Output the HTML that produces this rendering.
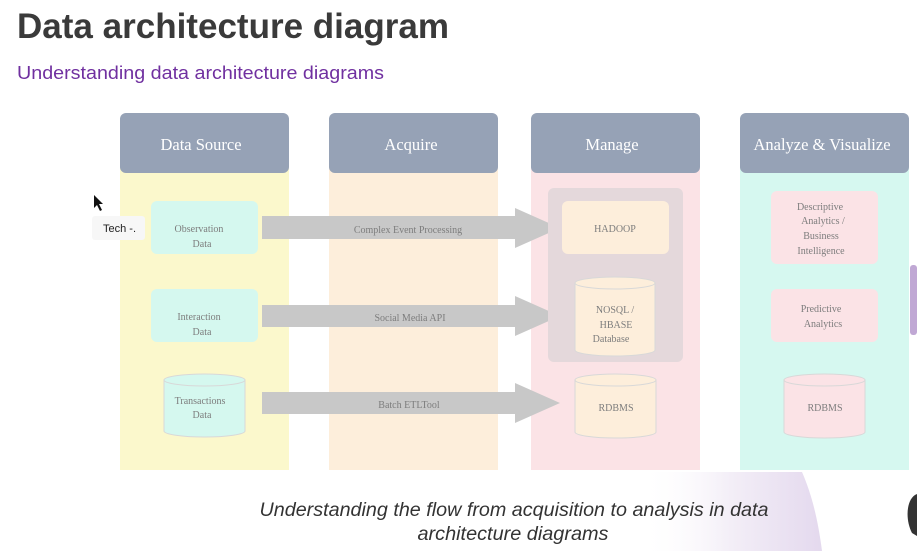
<!DOCTYPE html>
<html><head><meta charset="utf-8"><style>
html,body{margin:0;padding:0;background:#fff;width:917px;height:551px;overflow:hidden}
svg{display:block}
.s{font-family:"Liberation Serif",serif;fill:#7d7d7d;font-size:10px;text-anchor:middle}
.h{font-family:"Liberation Serif",serif;fill:#fff;font-size:16.5px;text-anchor:middle}
</style></head><body>
<svg width="917" height="551" viewBox="0 0 917 551">
<defs>
<linearGradient id="g" x1="0" y1="0" x2="1" y2="0">
<stop offset="0" stop-color="#fff" stop-opacity="0"/><stop offset="0.5" stop-color="#f3eef7"/><stop offset="1" stop-color="#e4d9ee"/>
</linearGradient>
</defs>
<path d="M640 472 L802 472 C812 495 818 520 822 551 L640 551 Z" fill="url(#g)"/>
<text x="17" y="38" font-family="Liberation Sans,sans-serif" font-weight="bold" font-size="35" fill="#3a3a3a" textLength="432" lengthAdjust="spacingAndGlyphs">Data architecture diagram</text>
<text x="17" y="79" font-family="Liberation Sans,sans-serif" font-size="18" fill="#7030a0" textLength="367" lengthAdjust="spacingAndGlyphs">Understanding data architecture diagrams</text>

<rect x="120" y="160" width="169" height="310" fill="#fbf8cc"/>
<rect x="329" y="160" width="169" height="310" fill="#fdeedb"/>
<rect x="531" y="160" width="169" height="310" fill="#fbe3e6"/>
<rect x="740" y="160" width="169" height="310" fill="#d6f8f0"/>
<rect x="120" y="113" width="169" height="60" rx="6" fill="#96a2b6"/>
<rect x="329" y="113" width="169" height="60" rx="6" fill="#96a2b6"/>
<rect x="531" y="113" width="169" height="60" rx="6" fill="#96a2b6"/>
<rect x="740" y="113" width="169" height="60" rx="6" fill="#96a2b6"/>
<text class="h" x="201" y="150">Data  Source</text>
<text class="h" x="411" y="150">Acquire</text>
<text class="h" x="612" y="150">Manage</text>
<text class="h" x="822" y="150">Analyze  &amp; Visualize</text>

<rect x="151" y="201" width="107" height="53" rx="6" fill="#d5f8ef"/>
<text class="s" x="199" y="232">Observation</text><text class="s" x="202" y="247">Data</text>
<rect x="151" y="289" width="107" height="53" rx="6" fill="#d5f8ef"/>
<text class="s" x="199" y="320">Interaction</text><text class="s" x="202" y="335">Data</text>
<path d="M164 380 L164 431 A40.5 6 0 0 0 245 431 L245 380 Z" fill="#d5f8ef" stroke="#d8d8d8"/>
<ellipse cx="204.5" cy="380" rx="40.5" ry="6" fill="#d5f8ef" stroke="#d8d8d8"/>
<text class="s" x="200" y="404">Transactions</text><text class="s" x="202" y="418">Data</text>

<polygon points="262,216 515,216 515,208 560,228 515,248 515,239 262,239" fill="#c8c8c8"/>
<polygon points="262,305 515,305 515,296 560,316 515,336 515,327 262,327" fill="#c8c8c8"/>
<polygon points="262,392 515,392 515,383 560,403 515,423 515,414 262,414" fill="#c8c8c8"/>
<text class="s" x="408" y="233" font-size="9">Complex  Event  Processing</text>
<text class="s" x="410" y="321" font-size="9">Social Media  API</text>
<text class="s" x="409" y="408" font-size="9">Batch  ETLTool</text>

<rect x="548" y="188" width="135" height="174" rx="6" fill="#e4d8db"/>
<rect x="562" y="201" width="107" height="53" rx="6" fill="#fdeedb"/>
<text class="s" x="615" y="232">HADOOP</text>
<path d="M575 283 L575 350 A40 6 0 0 0 655 350 L655 283 Z" fill="#fdeedb" stroke="#d8d8d8"/>
<ellipse cx="615" cy="283" rx="40" ry="6" fill="#fdeedb" stroke="#d8d8d8"/>
<text class="s" x="615" y="313">NOSQL /</text><text class="s" x="616" y="328">HBASE</text><text class="s" x="611" y="342">Database</text>
<path d="M575 380 L575 432 A40.5 6 0 0 0 656 432 L656 380 Z" fill="#fdeedb" stroke="#d8d8d8"/>
<ellipse cx="615.5" cy="380" rx="40.5" ry="6" fill="#fdeedb" stroke="#d8d8d8"/>
<text class="s" x="616" y="411">RDBMS</text>

<rect x="771" y="191" width="107" height="73" rx="6" fill="#fbe3e6"/>
<text class="s" x="820" y="210">Descriptive</text><text class="s" x="823" y="224">Analytics  /</text><text class="s" x="821" y="239">Business</text><text class="s" x="821" y="254">Intelligence</text>
<rect x="771" y="289" width="107" height="53" rx="6" fill="#fbe3e6"/>
<text class="s" x="821" y="312">Predictive</text><text class="s" x="823" y="327">Analytics</text>
<path d="M784 380 L784 432 A40.5 6 0 0 0 865 432 L865 380 Z" fill="#fbe3e6" stroke="#d8d8d8"/>
<ellipse cx="824.5" cy="380" rx="40.5" ry="6" fill="#fbe3e6" stroke="#d8d8d8"/>
<text class="s" x="825" y="411">RDBMS</text>

<rect x="92" y="216" width="53" height="24" rx="3" fill="#f7f7f7"/>
<text x="103" y="232" font-family="Liberation Sans,sans-serif" font-size="11" fill="#222">Tech -.</text>
<path d="M94 195 L94 208 L97 205 L100 211 L102 210 L99 204 L103 204 Z" fill="#111"/>

<rect x="910" y="265" width="7" height="70" rx="3" fill="#c0a8d4"/>
<path d="M917 494 C906 498 905 520 912 533 L917 536 Z" fill="#333"/>

<text x="514" y="516" text-anchor="middle" font-family="Liberation Sans,sans-serif" font-style="italic" font-size="19" fill="#333" textLength="509" lengthAdjust="spacingAndGlyphs">Understanding the flow from acquisition to analysis in data</text>
<text x="513" y="540" text-anchor="middle" font-family="Liberation Sans,sans-serif" font-style="italic" font-size="19" fill="#333" textLength="191" lengthAdjust="spacingAndGlyphs">architecture diagrams</text>
</svg>
</body></html>
